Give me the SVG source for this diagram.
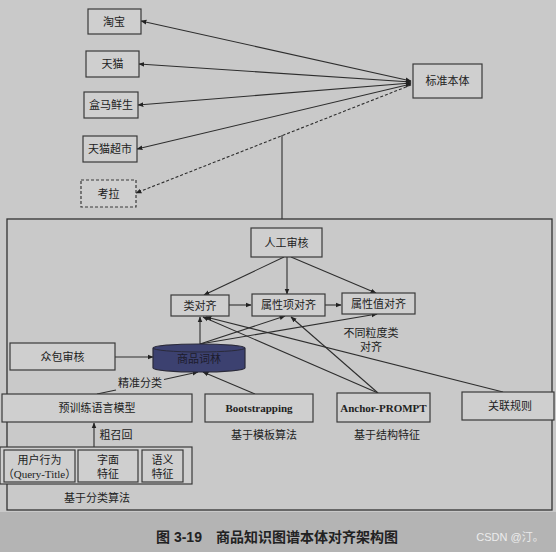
<svg xmlns="http://www.w3.org/2000/svg" width="556" height="552" viewBox="0 0 556 552">
<defs>
<style>
.bg{fill:#c9c9c9}
.box{fill:#cfcfcf;stroke:#3a3a3a;stroke-width:1.2}
.dbox{fill:#cfcfcf;stroke:#3a3a3a;stroke-width:1.2;stroke-dasharray:3 2}
.t{font-family:"Liberation Sans","Noto Sans CJK SC",sans-serif;font-size:11px;fill:#222;text-anchor:middle}
.s{font-family:"Liberation Serif","Noto Sans CJK SC",serif;font-size:11px;fill:#222;text-anchor:middle;font-weight:bold}
.ln{stroke:#2e2e2e;stroke-width:1.1;fill:none}
.a{marker-end:url(#ah)}
</style>
<marker id="ah" viewBox="0 0 10 10" refX="9" refY="5" markerWidth="6" markerHeight="6" orient="auto-start-reverse" markerUnits="userSpaceOnUse">
<path d="M0,1 L10,5 L0,9 Z" fill="#222"/>
</marker>
</defs>
<rect class="bg" x="0" y="0" width="556" height="552"/>
<rect x="0" y="512" width="556" height="40" fill="#b4b4b4"/>

<g id="connectors">
<line class="ln a" x1="411" y1="81" x2="141" y2="21" marker-start="url(#ah)"/>
<line class="ln a" x1="411" y1="82" x2="139" y2="64" marker-start="url(#ah)"/>
<line class="ln a" x1="411" y1="83" x2="138" y2="105" marker-start="url(#ah)"/>
<line class="ln a" x1="411" y1="84" x2="137" y2="149" marker-start="url(#ah)"/>
<line class="ln a" x1="411" y1="85" x2="136" y2="193" stroke-dasharray="3 2"/>
<line class="ln" x1="282" y1="135" x2="282" y2="219"/>
<line class="ln a" x1="284" y1="257" x2="204" y2="295"/>
<line class="ln a" x1="287" y1="257" x2="287" y2="294"/>
<line class="ln a" x1="291" y1="257" x2="376" y2="293"/>
<line class="ln a" x1="229" y1="305" x2="251" y2="305"/>
<line class="ln a" x1="325" y1="305" x2="341" y2="305"/>
<line class="ln a" x1="115" y1="357" x2="153" y2="357"/>
<line class="ln a" x1="200" y1="344" x2="200" y2="317"/>
<line class="ln a" x1="200" y1="344" x2="285" y2="316"/>
<line class="ln a" x1="200" y1="344" x2="377" y2="314"/>
<line class="ln a" x1="378" y1="393" x2="203" y2="317"/>
<line class="ln a" x1="503" y1="392" x2="206" y2="317"/>
<line class="ln a" x1="378" y1="393" x2="291" y2="317"/>
<line class="ln a" x1="255" y1="394" x2="203" y2="372"/>
<line class="ln" x1="97" y1="394" x2="116" y2="390"/>
<line class="ln a" x1="164" y1="379.5" x2="198" y2="372"/>
<line class="ln a" x1="94" y1="447" x2="94" y2="423"/>
</g>

<rect id="frame" x="7" y="219" width="545" height="291" fill="none" stroke="#333" stroke-width="1.3"/>

<g id="taobao"><rect class="box" x="88" y="9" width="53" height="25"/><text class="t" x="114" y="25.5">淘宝</text></g>
<g id="tmall"><rect class="box" x="86" y="51" width="53" height="26"/><text class="t" x="112.5" y="68">天猫</text></g>
<g id="hema"><rect class="box" x="84" y="92" width="54" height="26"/><text class="t" x="111" y="109">盒马鲜生</text></g>
<g id="tmallmarket"><rect class="box" x="83" y="136" width="54" height="26"/><text class="t" x="110" y="153">天猫超市</text></g>
<g id="kaola"><rect class="dbox" x="81" y="180" width="55" height="27"/><text class="t" x="108.5" y="197.5">考拉</text></g>
<g id="standard"><rect class="box" x="413" y="64" width="69" height="34"/><text class="t" x="447.5" y="85">标准本体</text></g>

<g id="manual"><rect class="box" x="251" y="228" width="71" height="29"/><text class="t" x="286.5" y="246.5">人工审核</text></g>
<g id="classalign"><rect class="box" x="171" y="295" width="58" height="21"/><text class="t" x="200" y="309.5">类对齐</text></g>
<g id="attralign"><rect class="box" x="252" y="294" width="73" height="22"/><text class="t" x="288.5" y="309">属性项对齐</text></g>
<g id="valalign"><rect class="box" x="342" y="293" width="73" height="21"/><text class="t" x="378.5" y="307.5">属性值对齐</text></g>
<g id="crowd"><rect class="box" x="10" y="343" width="105" height="27"/><text class="t" x="62.5" y="360.5">众包审核</text></g>
<g id="lexicon">
<path d="M153,348 A46,4 0 0 1 245,348 V368 A46,4 0 0 1 153,368 Z" fill="#3c4170" stroke="#2a2a3a" stroke-width="1.2"/>
<path d="M153,348 A46,4 0 0 0 245,348" fill="none" stroke="#2a2a3a" stroke-width="1"/>
<text class="t" x="199" y="363" fill="#1a1a2a" style="fill:#1c1c2c">商品词林</text>
</g>
<g id="label-grain"><text class="t" x="371" y="337">不同粒度类</text><text class="t" x="371" y="351">对齐</text></g>
<g id="label-precise"><text class="t" x="140" y="387">精准分类</text></g>
<g id="plm"><rect class="box" x="2" y="394" width="190" height="28"/><text class="t" x="97" y="412">预训练语言模型</text></g>
<g id="bootstrapping"><rect class="box" x="205" y="394" width="108" height="28"/><text class="s" x="259" y="412">Bootstrapping</text></g>
<g id="anchor"><rect class="box" x="337" y="393" width="93" height="29"/><text class="s" x="383.5" y="411.5">Anchor-PROMPT</text></g>
<g id="assoc"><rect class="box" x="462" y="392" width="92" height="28"/><text class="t" x="510" y="410">关联规则</text></g>
<g id="labels-algo">
<text class="t" x="264" y="439">基于模板算法</text>
<text class="t" x="387" y="439">基于结构特征</text>
<text class="t" x="116" y="439">粗召回</text>
<text class="t" x="97" y="502">基于分类算法</text>
</g>
<g id="features">
<rect class="box" x="0" y="447" width="192" height="37"/>
<g id="userbehavior"><rect class="box" x="4" y="450" width="71" height="32"/><text class="t" x="39.5" y="464">用户行为</text><text class="t" x="39.5" y="478" style="font-family:'Liberation Serif','Noto Sans CJK SC',serif">（Query-Title）</text></g>
<g id="literal"><rect class="box" x="78" y="450" width="60" height="32"/><text class="t" x="108" y="464">字面</text><text class="t" x="108" y="478">特征</text></g>
<g id="semantic"><rect class="box" x="142" y="450" width="41" height="32"/><text class="t" x="162.5" y="464">语义</text><text class="t" x="162.5" y="478">特征</text></g>
</g>
<text class="t" x="277" y="542" style="font-size:14px;font-weight:bold">图 3-19　商品知识图谱本体对齐架构图</text>
<text class="t" x="510" y="541" style="font-size:11px;fill:#ececec">CSDN @汀。</text>
</svg>
